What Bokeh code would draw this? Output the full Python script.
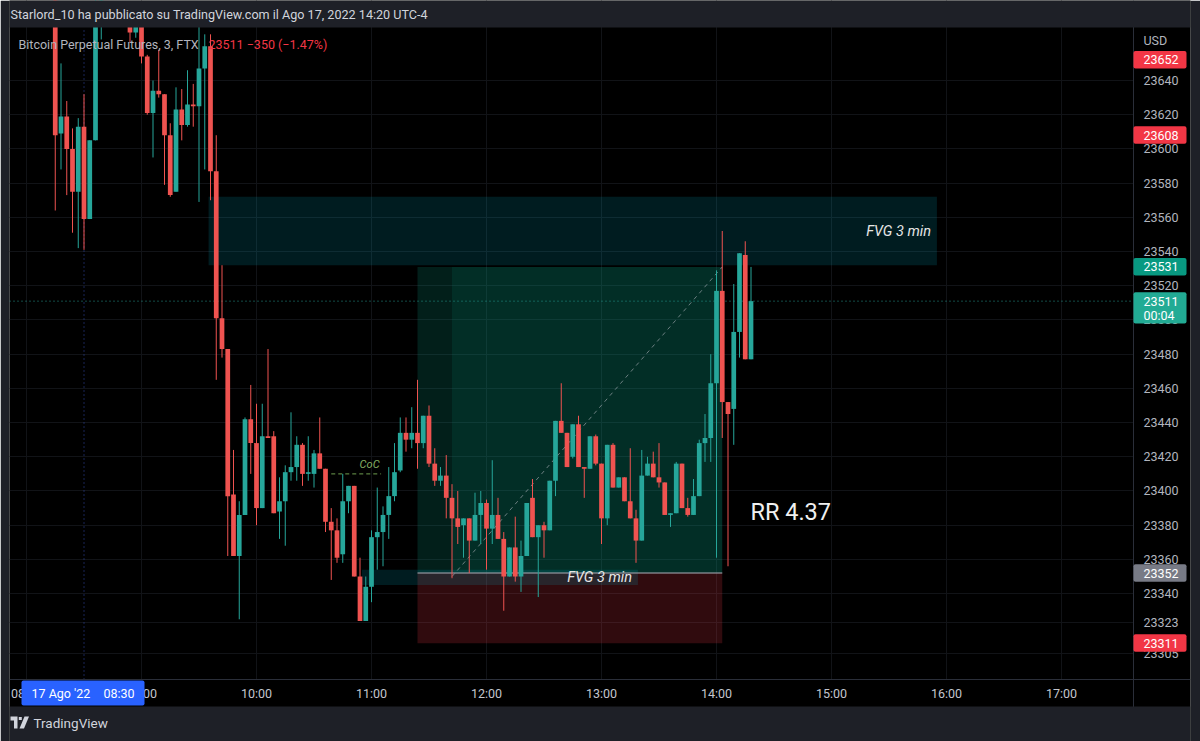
import datetime as dt
from bokeh.plotting import figure
from bokeh.models import (ColumnDataSource, Range1d, FixedTicker, PrintfTickFormatter,
                          DatetimeTickFormatter, BoxAnnotation, PolyAnnotation, Label, Span, Grid)
from bokeh.embed import file_html
from bokeh.resources import INLINE

DAY = "2022-08-17"
EPOCH = dt.datetime(1970, 1, 1)


def at(hm, extra_min=0.0):
    return dt.datetime.strptime(f"{DAY} {hm}", "%Y-%m-%d %H:%M") + dt.timedelta(minutes=extra_min)


def ms(t):
    return (t - EPOCH).total_seconds() * 1000.0


# ---------------- data (3-minute candles, BTC-PERP FTX) ----------------
times = ["08:15", "08:18", "08:21", "08:24", "08:27", "08:30", "08:33", "08:36", "08:39",
         "08:54", "08:57", "09:00", "09:03", "09:06", "09:09", "09:12", "09:15", "09:18",
         "09:21", "09:24", "09:27", "09:30", "09:33", "09:36", "09:39", "09:42", "09:45",
         "09:48", "09:51", "09:54", "09:57", "10:00", "10:03", "10:06", "10:09", "10:12",
         "10:15", "10:18", "10:21", "10:24", "10:27", "10:30", "10:33", "10:36", "10:39",
         "10:42", "10:45", "10:48", "10:51", "10:54", "10:57", "11:00", "11:03", "11:06",
         "11:09", "11:12", "11:15", "11:18", "11:21", "11:24", "11:27", "11:30", "11:33",
         "11:36", "11:39", "11:42", "11:45", "11:48", "11:51", "11:54", "11:57", "12:00",
         "12:03", "12:06", "12:09", "12:12", "12:15", "12:18", "12:21", "12:24", "12:27",
         "12:30", "12:33", "12:36", "12:39", "12:42", "12:45", "12:48", "12:51", "12:54",
         "12:57", "13:00", "13:03", "13:06", "13:09", "13:12", "13:15", "13:18", "13:21",
         "13:24", "13:27", "13:30", "13:33", "13:36", "13:39", "13:42", "13:45", "13:48",
         "13:51", "13:54", "13:57", "14:00", "14:03", "14:06", "14:09", "14:12", "14:15",
         "14:18"]
opens = [23690, 23609, 23619, 23600, 23575, 23613, 23559, 23605, 23682,
         23676, 23668, 23673, 23654, 23621, 23634, 23632, 23608, 23575,
         23623, 23614, 23626, 23625, 23647, 23660, 23587, 23501, 23483,
         23398, 23362, 23386, 23442, 23428, 23390, 23432, 23432, 23388,
         23394, 23411, 23414, 23427, 23410, 23410, 23422, 23413, 23382,
         23377, 23363, 23394, 23403, 23350, 23324, 23344, 23373, 23376,
         23386, 23397, 23412, 23434, 23430, 23434, 23428, 23444, 23416,
         23406, 23409, 23396, 23384, 23380, 23384, 23371, 23386, 23393,
         23378, 23386, 23372, 23350, 23367, 23350, 23362, 23396, 23373,
         23380, 23377, 23406, 23441, 23434, 23420, 23439, 23414, 23413,
         23432, 23416, 23384, 23427, 23402, 23408, 23394, 23384, 23371,
         23409, 23416, 23408, 23405, 23386, 23387, 23416, 23390, 23386,
         23397, 23428, 23431, 23463, 23517, 23452, 23448, 23493, 23538,
         23477]
highs = [23695, 23650, 23628, 23612, 23618, 23632, 23605, 23688, 23705,
         23680, 23678, 23676, 23655, 23640, 23658, 23632, 23615, 23636,
         23635, 23646, 23638, 23680, 23667, 23667, 23608, 23532, 23483,
         23424, 23394, 23443, 23462, 23451, 23451, 23483, 23435, 23408,
         23415, 23446, 23432, 23428, 23432, 23424, 23443, 23413, 23390,
         23384, 23410, 23403, 23403, 23361, 23350, 23377, 23402, 23391,
         23414, 23428, 23443, 23443, 23449, 23465, 23444, 23450, 23425,
         23414, 23421, 23404, 23400, 23384, 23384, 23399, 23400, 23395,
         23418, 23396, 23376, 23367, 23385, 23371, 23393, 23407, 23380,
         23382, 23406, 23441, 23463, 23434, 23439, 23444, 23414, 23432,
         23433, 23416, 23427, 23428, 23408, 23408, 23425, 23389, 23424,
         23420, 23423, 23428, 23405, 23387, 23417, 23416, 23396, 23407,
         23430, 23445, 23480, 23529, 23552, 23452, 23521, 23539, 23546,
         23531]
lows = [23564, 23588, 23573, 23551, 23542, 23541, 23559, 23605, 23664,
        23662, 23665, 23650, 23620, 23595, 23630, 23579, 23572, 23575,
        23605, 23613, 23613, 23569, 23588, 23570, 23465, 23478, 23362,
        23362, 23325, 23386, 23410, 23380, 23390, 23431, 23387, 23372,
        23368, 23406, 23406, 23403, 23406, 23402, 23413, 23376, 23348,
        23358, 23358, 23387, 23350, 23324, 23324, 23335, 23354, 23356,
        23372, 23394, 23411, 23423, 23425, 23413, 23425, 23414, 23403,
        23403, 23384, 23349, 23369, 23361, 23352, 23371, 23369, 23354,
        23369, 23372, 23330, 23350, 23347, 23341, 23362, 23373, 23338,
        23361, 23377, 23397, 23434, 23414, 23419, 23414, 23396, 23413,
        23415, 23369, 23380, 23402, 23402, 23394, 23384, 23358, 23371,
        23409, 23408, 23402, 23386, 23379, 23387, 23390, 23385, 23386,
        23397, 23417, 23417, 23361, 23431, 23356, 23427, 23478, 23477,
        23477]
closes = [23608, 23619, 23600, 23575, 23613, 23559, 23605, 23680, 23700,
          23668, 23673, 23654, 23621, 23634, 23632, 23608, 23573, 23623,
          23614, 23626, 23625, 23647, 23660, 23587, 23501, 23483, 23397,
          23362, 23386, 23442, 23428, 23390, 23432, 23431, 23387, 23394,
          23411, 23414, 23427, 23410, 23411, 23422, 23413, 23382, 23377,
          23361, 23394, 23403, 23350, 23324, 23344, 23373, 23376, 23386,
          23397, 23411, 23434, 23430, 23434, 23428, 23444, 23416, 23406,
          23409, 23396, 23384, 23379, 23384, 23371, 23386, 23393, 23378,
          23386, 23372, 23350, 23367, 23350, 23362, 23393, 23373, 23380,
          23377, 23406, 23441, 23434, 23414, 23439, 23414, 23413, 23432,
          23416, 23384, 23427, 23402, 23408, 23394, 23384, 23371, 23409,
          23416, 23408, 23405, 23386, 23387, 23416, 23390, 23386, 23397,
          23428, 23431, 23463, 23517, 23452, 23445, 23493, 23539, 23477,
          23511]

hour_labels = ["08:00", "09:00", "10:00", "11:00", "12:00", "13:00",
               "14:00", "15:00", "16:00", "17:00"]
price_ticks = [23305, 23323, 23340, 23360, 23380, 23400, 23420, 23440, 23460,
               23480, 23500, 23520, 23540, 23560, 23580, 23600, 23620, 23640]

# drawings
fvg_top_zone = {"left": "09:35", "right": "15:55", "top": 23572, "bottom": 23532}
fvg_low_zone = {"left": "10:55", "right": "13:19", "top": 23354, "bottom": 23345}
position = {"left": "11:24", "right": "14:03", "entry": 23352, "target": 23531,
            "stop": 23311, "hit": "11:42", "hit_price": 23350}
coc = {"left": "10:39", "right": "11:05", "level": 23410}
crosshair_time = "08:30"
last_price = 23511

badge_prices = [23652, 23608, 23531, 23511, 23352, 23311]
badge_colors = ["#f23645", "#f23645", "#089981", "#22ab94", "#787b86", "#f23645"]

# ---------------- layout constants (pixels -> axis ranges) ----------------
UP, DOWN = "#26a69a", "#ef5350"
FONT = "Roboto"
FRAME_BG = "#000000"
SHELL = "#1e2027"
GRID = "#111317"
SEP = "#2a2e39"

W, H = 1200, 741
LEFT_B, RIGHT_B = 9, 10
PX_PER_MIN = 115 / 60.0              # time scale
X10 = 256                            # page x of 10:00
PX_PER_USD = 1.7104
Y_AT_23640 = 80


def page_x_to_time(px):
    return at("10:00", (px - X10) / PX_PER_MIN)


def page_y_to_price(py):
    return 23640 - (py - Y_AT_23640) / PX_PER_USD


x0, x1 = page_x_to_time(LEFT_B), page_x_to_time(W - RIGHT_B)
x_sep = page_x_to_time(1133)
y_top, y_bot = page_y_to_price(0), page_y_to_price(H)
y_sep = page_y_to_price(679)
y_plot_top = page_y_to_price(27)

t_vals = [at(t) for t in times]
cols = [UP if c >= o else DOWN for o, c in zip(opens, closes)]
src = ColumnDataSource(dict(
    t=t_vals, o=opens, h=highs, l=lows, c=closes, color=cols,
    top=[max(o, c) for o, c in zip(opens, closes)],
    bot=[min(o, c) for o, c in zip(opens, closes)],
))

p = figure(width=W, height=H, x_axis_type="datetime",
           x_range=Range1d(x0, x1), y_range=Range1d(y_bot, y_top),
           y_axis_location="right", toolbar_location=None, output_backend="svg",
           title=None, min_border_left=LEFT_B, min_border_right=RIGHT_B,
           min_border_top=0, min_border_bottom=0)
p.background_fill_color = FRAME_BG
p.border_fill_color = SHELL
p.outline_line_color = None

# axes (labels drawn back into the axis strips of the frame)
p.yaxis.ticker = FixedTicker(ticks=price_ticks)
p.yaxis.formatter = PrintfTickFormatter(format="%d")
p.xaxis.ticker = FixedTicker(ticks=[ms(at(h)) for h in hour_labels])
fmt = "%H:%M"
p.xaxis.formatter = DatetimeTickFormatter(hours=fmt, hourmin=fmt, minutes=fmt, days=fmt,
                                          minsec=fmt, seconds=fmt, months=fmt, years=fmt)
for ax in (p.xaxis, p.yaxis):
    ax.major_tick_line_color = None
    ax.minor_tick_line_color = None
    ax.major_tick_out = 0
    ax.minor_tick_out = 0
    ax.axis_line_color = None
    ax.major_label_text_color = "#b2b5be"
    ax.major_label_text_font = FONT
    ax.major_label_text_font_size = "12.5px"
p.xaxis.major_label_text_color = "#c3c6ce"
p.yaxis.major_label_standoff = -(W - RIGHT_B - 1143)
p.xaxis.major_label_standoff = -(H - 685)

p.xgrid.grid_line_color = GRID
p.ygrid.grid_line_color = GRID
if "cross_bounds" in Grid.properties():
    p.ygrid.cross_bounds = (ms(x0), ms(x_sep))
    p.xgrid.cross_bounds = (y_sep, y_top)

# separators between chart and scales
p.add_layout(Span(location=ms(x_sep), dimension="height", line_color=SEP, line_width=1))
p.add_layout(Span(location=y_sep, dimension="width", line_color=SEP, line_width=1))

# drawings under candles
p.quad(left=[at(fvg_top_zone["left"])], right=[at(fvg_top_zone["right"])],
       top=[fvg_top_zone["top"]], bottom=[fvg_top_zone["bottom"]],
       fill_color="#00bcd4", fill_alpha=0.15, line_color=None)
p.quad(left=[at(position["left"])], right=[at(position["right"])],
       top=[position["target"]], bottom=[position["entry"]],
       fill_color="#089981", fill_alpha=0.2, line_color=None)
p.quad(left=[at(position["hit"])], right=[at(position["right"])],
       top=[position["target"]], bottom=[position["entry"]],
       fill_color="#089981", fill_alpha=0.12, line_color=None)
p.quad(left=[at(position["left"])], right=[at(position["right"])],
       top=[position["entry"]], bottom=[position["stop"]],
       fill_color="#f23645", fill_alpha=0.2, line_color=None)
p.quad(left=[at(fvg_low_zone["left"])], right=[at(fvg_low_zone["right"])],
       top=[fvg_low_zone["top"]], bottom=[fvg_low_zone["bottom"]],
       fill_color="#00bcd4", fill_alpha=0.15, line_color=None)
p.segment(x0=[at(position["left"])], x1=[at(position["right"])],
          y0=[position["entry"]], y1=[position["entry"]],
          line_color="#9598a1", line_width=1.5, line_alpha=0.8)
p.segment(x0=[at(position["hit"])], x1=[at(position["right"])],
          y0=[position["hit_price"]], y1=[position["target"]],
          line_color="#b2b5be", line_alpha=0.6, line_width=1, line_dash="4 4")
p.segment(x0=[at(coc["left"])], x1=[at(coc["right"])],
          y0=[coc["level"]], y1=[coc["level"]],
          line_color="#6f9f4f", line_width=1, line_dash="4 3")

# crosshair
p.segment(x0=[at(crosshair_time)], x1=[at(crosshair_time)], y0=[y_sep], y1=[y_plot_top],
          line_color="#3d5bd6", line_alpha=0.8, line_dash="1 3", line_width=1)
p.segment(x0=[x0], x1=[x_sep], y0=[last_price], y1=[last_price],
          line_color=UP, line_alpha=0.9, line_dash="1 3", line_width=1)

# candles
bw = 3 * 60 * 1000 * 0.82
p.segment(x0="t", x1="t", y0="l", y1="h", line_color="color", line_width=1, source=src)
p.vbar(x="t", width=bw, top="top", bottom="bot", fill_color="color",
       line_color=None, source=src)


# in-chart labels
def dlabel(x, y, text, **kw):
    opts = dict(text_font=FONT, text_baseline="middle", text_align="center",
                text_color="#e6e6e6", text_font_size="14.5px")
    opts.update(kw)
    p.add_layout(Label(x=x, y=y, text=text, **opts))


dlabel(ms(at("15:35")), 23552, "FVG 3 min", text_font_style="italic")
dlabel(ms(at("12:59")), 23349.5, "FVG 3 min", text_font_style="italic")
dlabel(ms(at("10:59")), 23411.5, "CoC", text_font_style="italic", text_font_size="11px",
       text_color="#84b063", text_baseline="bottom")
dlabel(ms(at("14:18", -0.3)), 23388, "RR 4.37", text_align="left", text_font_size="23.5px",
       text_color="#f0f0f0")


# ---------------- shell (screen units, relative to frame bottom-left) ----------------
def sbox(color, **kw):
    units = {f"{k}_units": "screen" for k in ("left", "right", "top", "bottom") if k in kw}
    p.add_layout(BoxAnnotation(fill_color=color, fill_alpha=1, line_color=None, **units, **kw))


def slabel(x, y, text, **kw):
    opts = dict(x_units="screen", y_units="screen", text_font=FONT, text_baseline="middle",
                text_align="left", text_color="#d1d4dc", text_font_size="12.5px")
    opts.update(kw)
    p.add_layout(Label(x=x, y=y, text=text, **opts))


def sx(px):
    return px - LEFT_B


def sy(py):
    return H - py


sbox(SHELL, bottom=sy(27))                      # header band
sbox(SHELL, top=sy(706))                        # footer band
sbox("#2962ff", left=sx(21), right=sx(144), top=sy(680), bottom=sy(705), border_radius=2)

slabel(sx(10), sy(14), "Starlord_10 ha pubblicato su TradingView.com il Ago 17, 2022 14:20 UTC-4",
       text_font_size="12.6px")
slabel(sx(18), sy(44), "Bitcoin Perpetual Futures, 3, FTX", text_color="#b2b5be")
slabel(sx(208), sy(44), "23511  \u2212350 (\u22121.47%)", text_color="#f23645")
slabel(sx(31), sy(692.5), "17 Ago '22", text_color="#ffffff")
slabel(sx(103), sy(692.5), "08:30", text_color="#ffffff")
slabel(sx(33), sy(722), "TradingView", text_font_size="13.5px")
slabel(sx(1143), sy(40), "USD", text_color="#b2b5be")

# TradingView logo
logo = "#d1d4dc"
for xs, ys in (([10, 17, 17, 13.5, 13.5, 10], [716, 716, 728, 728, 720, 720]),
               ([24, 28.5, 23.5, 19], [716, 716, 728, 728]),
               ([18.3, 21.3, 21.3, 18.3], [716.5, 716.5, 719.5, 719.5])):
    p.add_layout(PolyAnnotation(xs=[sx(v) for v in xs], ys=[sy(v) for v in ys],
                                xs_units="screen", ys_units="screen", fill_color=logo,
                                fill_alpha=1, line_color=None))

# price badges on the scale
for pr, col in zip(badge_prices, badge_colors):
    bottom = pr - 13 if pr == last_price else pr - 5
    p.add_layout(BoxAnnotation(left=sx(1133), right=sx(1186), top=pr + 5.2, bottom=bottom,
                               left_units="screen", right_units="screen",
                               fill_color=col, fill_alpha=1, line_color=None, border_radius=2))
    p.add_layout(Label(x=sx(1143), y=pr, x_units="screen", text=str(pr), text_font=FONT,
                       text_font_size="12.5px", text_color="#ffffff", text_baseline="middle",
                       text_align="left"))
p.add_layout(Label(x=sx(1143), y=last_price - 8.5, x_units="screen", text="00:04",
                   text_font=FONT, text_font_size="12.5px", text_color="#ffffff",
                   text_baseline="middle", text_align="left"))

open("out.html", "w").write(file_html(p, INLINE))
